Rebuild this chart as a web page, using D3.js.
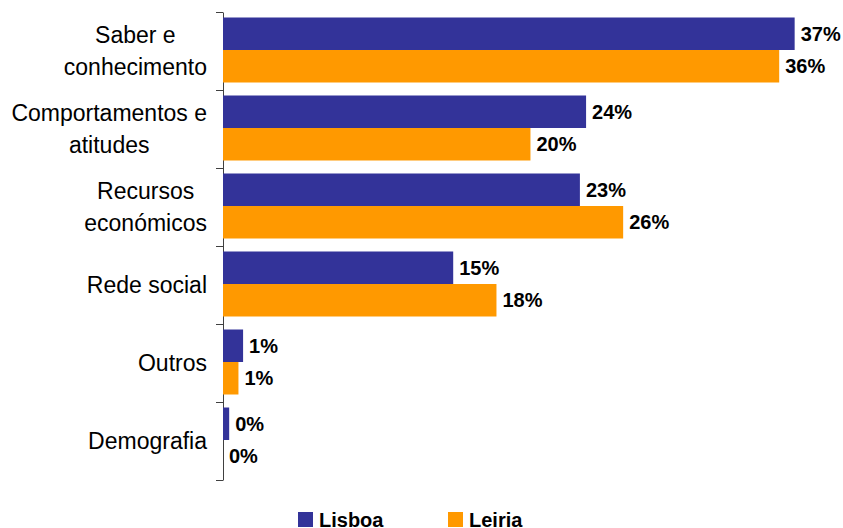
<!DOCTYPE html>
<html>
<head>
<meta charset="utf-8">
<script src="https://cdn.jsdelivr.net/npm/d3@7"></script>
<style>
  body { margin: 0; background: #fff; }
  svg { display: block; font-family: "Liberation Sans", Arial, sans-serif; }
</style>
</head>
<body>
<div id="chart"></div>
<script>
// Data
const categories = [
    ["Saber e", "conhecimento"],
    ["Comportamentos e", "atitudes"],
    ["Recursos", "económicos"],
    ["Rede social"],
    ["Outros"],
    ["Demografia"]
];
const seriesNames = ["Lisboa", "Leiria"];
const lisboa = [37, 23.5, 23.1, 14.9, 1.3, 0.4];
const leiria = [36, 19.9, 25.9, 17.7, 1, 0];
const colors = ["#333399", "#ff9900"];

const width = 843;
const height = 528;

const svg = d3.select("#chart")
    .append("svg")
    .attr("width", width)
    .attr("height", height);

// Scales
const x = d3.scaleLinear()
    .domain([0, 40])
    .range([223, 841]);

const y = d3.scaleBand()
    .domain(d3.range(categories.length))
    .range([12, 480]);

const ySub = d3.scaleBand()
    .domain(seriesNames)
    .range([-1, y.bandwidth() - 1])
    .paddingOuter(0.2);

const color = d3.scaleOrdinal()
    .domain(seriesNames)
    .range(colors);

// Category axis: line with ticks at band boundaries
const yEdges = d3.scaleLinear()
    .domain([0, categories.length])
    .range([12, 480]);

svg.append("g")
    .attr("transform", "translate(" + x(0) + ",0)")
    .call(d3.axisLeft(yEdges)
        .tickValues(d3.range(categories.length + 1))
        .tickFormat("")
        .tickSize(7)
        .tickSizeOuter(0))
    .call(g => g.selectAll("line, path").attr("stroke", "#404040"));

// Category labels (right aligned block, lines centred)
const labelRight = 207;
const lineGap = 32;
categories.forEach((lines, i) => {
    const t = svg.append("text")
        .attr("font-size", 23)
        .attr("fill", "#000")
        .attr("text-anchor", "middle");
    const spans = lines.map((line, j) => t.append("tspan")
        .attr("y", y(i) + y.bandwidth() / 2 + (j - (lines.length - 1) / 2) * lineGap)
        .attr("dy", "0.35em")
        .text(line));
    const maxW = d3.max(spans, s => s.node().getComputedTextLength());
    spans.forEach(s => s.attr("x", labelRight - maxW / 2));
});

// Bars
const rows = categories.map((c, i) => ({
    i: i,
    values: [
        { name: "Lisboa", value: lisboa[i] },
        { name: "Leiria", value: leiria[i] }
    ]
}));

const groups = svg.selectAll(".group")
    .data(rows)
    .enter()
    .append("g")
    .attr("class", "group")
    .attr("transform", d => "translate(0," + y(d.i) + ")");

groups.selectAll("rect")
    .data(d => d.values)
    .enter()
    .append("rect")
    .attr("x", x(0))
    .attr("y", d => ySub(d.name))
    .attr("width", d => x(d.value) - x(0))
    .attr("height", ySub.bandwidth())
    .attr("fill", d => color(d.name));

// Value labels
groups.selectAll(".val")
    .data(d => d.values)
    .enter()
    .append("text")
    .attr("class", "val")
    .attr("x", d => x(d.value) + 6)
    .attr("y", d => ySub(d.name) + ySub.bandwidth() / 2)
    .attr("dy", "0.36em")
    .attr("font-size", 20)
    .attr("font-weight", "bold")
    .attr("fill", "#000")
    .text(d => Math.round(d.value) + "%");

// Legend
const legendX = [298, 448];
const legend = svg.selectAll(".legend")
    .data(seriesNames)
    .enter()
    .append("g")
    .attr("class", "legend")
    .attr("transform", (d, i) => "translate(" + legendX[i] + ",512)");

legend.append("rect")
    .attr("width", 15)
    .attr("height", 15)
    .attr("fill", d => color(d));

legend.append("text")
    .attr("x", 21)
    .attr("y", 14.5)
    .attr("font-size", 20)
    .attr("font-weight", "bold")
    .attr("fill", "#000")
    .text(d => d);
</script>
</body>
</html>
